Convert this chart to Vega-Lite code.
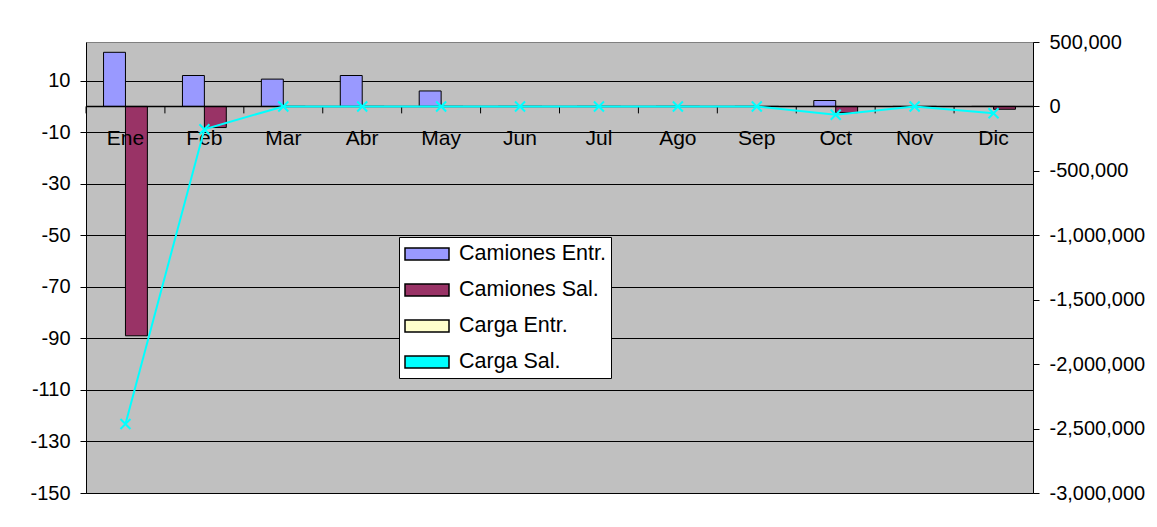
{
  "$schema": "https://vega.github.io/schema/vega-lite/v6.json",
  "width": 947,
  "height": 451,
  "autosize": {"type": "none"},
  "padding": {"left": 86, "top": 42, "right": 124, "bottom": 34},
  "background": "white",
  "config": {
    "font": "Liberation Sans",
    "view": {"fill": "#c0c0c0", "stroke": "#808080", "strokeWidth": 1},
    "axis": {"labelFont": "Liberation Sans", "labelFontSize": 20, "labelColor": "black", "domainColor": "black", "tickColor": "black"}
  },
  "data": {
    "values": [
      {"month": "Ene", "series": "Camiones Entr.", "value": 21},
      {"month": "Feb", "series": "Camiones Entr.", "value": 12},
      {"month": "Mar", "series": "Camiones Entr.", "value": 10.6},
      {"month": "Abr", "series": "Camiones Entr.", "value": 12},
      {"month": "May", "series": "Camiones Entr.", "value": 6},
      {"month": "Jun", "series": "Camiones Entr.", "value": 0},
      {"month": "Jul", "series": "Camiones Entr.", "value": 0},
      {"month": "Ago", "series": "Camiones Entr.", "value": 0},
      {"month": "Sep", "series": "Camiones Entr.", "value": 0},
      {"month": "Oct", "series": "Camiones Entr.", "value": 2.3},
      {"month": "Nov", "series": "Camiones Entr.", "value": 0},
      {"month": "Dic", "series": "Camiones Entr.", "value": 0},
      {"month": "Ene", "series": "Camiones Sal.", "value": -89},
      {"month": "Feb", "series": "Camiones Sal.", "value": -8.2},
      {"month": "Mar", "series": "Camiones Sal.", "value": 0},
      {"month": "Abr", "series": "Camiones Sal.", "value": 0},
      {"month": "May", "series": "Camiones Sal.", "value": 0},
      {"month": "Jun", "series": "Camiones Sal.", "value": 0},
      {"month": "Jul", "series": "Camiones Sal.", "value": 0},
      {"month": "Ago", "series": "Camiones Sal.", "value": 0},
      {"month": "Sep", "series": "Camiones Sal.", "value": 0},
      {"month": "Oct", "series": "Camiones Sal.", "value": -2.4},
      {"month": "Nov", "series": "Camiones Sal.", "value": 0},
      {"month": "Dic", "series": "Camiones Sal.", "value": -1.1},
      {"month": "Ene", "series": "Carga Entr.", "value": 0},
      {"month": "Feb", "series": "Carga Entr.", "value": 0},
      {"month": "Mar", "series": "Carga Entr.", "value": 0},
      {"month": "Abr", "series": "Carga Entr.", "value": 0},
      {"month": "May", "series": "Carga Entr.", "value": 0},
      {"month": "Jun", "series": "Carga Entr.", "value": 0},
      {"month": "Jul", "series": "Carga Entr.", "value": 0},
      {"month": "Ago", "series": "Carga Entr.", "value": 0},
      {"month": "Sep", "series": "Carga Entr.", "value": 0},
      {"month": "Oct", "series": "Carga Entr.", "value": 0},
      {"month": "Nov", "series": "Carga Entr.", "value": 0},
      {"month": "Dic", "series": "Carga Entr.", "value": 0},
      {"month": "Ene", "series": "Carga Sal.", "value": -2465000},
      {"month": "Feb", "series": "Carga Sal.", "value": -177000},
      {"month": "Mar", "series": "Carga Sal.", "value": 0},
      {"month": "Abr", "series": "Carga Sal.", "value": 0},
      {"month": "May", "series": "Carga Sal.", "value": 0},
      {"month": "Jun", "series": "Carga Sal.", "value": 0},
      {"month": "Jul", "series": "Carga Sal.", "value": 0},
      {"month": "Ago", "series": "Carga Sal.", "value": 0},
      {"month": "Sep", "series": "Carga Sal.", "value": 0},
      {"month": "Oct", "series": "Carga Sal.", "value": -64000},
      {"month": "Nov", "series": "Carga Sal.", "value": 0},
      {"month": "Dic", "series": "Carga Sal.", "value": -53000}
    ]
  },
  "encoding": {
    "x": {
      "field": "month", "type": "nominal", "sort": ["Ene","Feb","Mar","Abr","May","Jun","Jul","Ago","Sep","Oct","Nov","Dic"],
      "scale": {"paddingInner": 0, "paddingOuter": 0},
      "axis": null
    }
  },
  "layer": [
    {
      "encoding": {
        "y": {
          "field": "value", "type": "quantitative",
          "scale": {"domain": [-150, 25], "nice": false, "zero": false},
          "axis": {
            "orient": "left", "title": null, "values": [-150,-130,-110,-90,-70,-50,-30,-10,10],
            "grid": true, "gridColor": "black", "gridWidth": 1, "gridOpacity": 1,
            "tickSize": 6, "labelPadding": 10, "domain": true, "format": "d",
            "labelExpr": "replace(datum.label, '\u2212', '-')"
          }
        }
      },
      "layer": [
        {
          "transform": [{"filter": "datum.series === 'Camiones Entr.' || datum.series === 'Camiones Sal.'"}],
          "mark": {"type": "bar", "stroke": "black", "strokeWidth": 1, "opacity": 1},
          "encoding": {
            "xOffset": {"field": "series", "type": "nominal", "scale": {"domain": ["Camiones Entr.", "Camiones Sal."], "paddingInner": 0, "paddingOuter": 0.8}},
            "color": {
              "field": "series", "type": "nominal",
              "scale": {"domain": ["Camiones Entr.", "Camiones Sal.", "Carga Entr.", "Carga Sal."], "range": ["#9999ff", "#993366", "#ffffcc", "#00ffff"]},
              "legend": {
                "orient": "none", "legendX": 313, "legendY": 195, "title": null,
                "fillColor": "white", "strokeColor": "black", "padding": 5,
                "labelFont": "Liberation Sans", "labelFontSize": 21.5, "labelColor": "black",
                "symbolSize": 484, "rowPadding": 13, "labelOffset": 31,
                "symbolType": "M-1,-0.55H3V0.55H-1Z",
                "symbolStrokeColor": "black", "symbolStrokeWidth": 1.5,
                "encode": {
                  "symbols": {
                    "shape": {"condition": {"test": "datum.value === 'Carga Sal.'", "value": "M-1,0H3M0.72,-0.28L1.28,0.28M0.72,0.28L1.28,-0.28"}, "value": "M-1,-0.55H3V0.55H-1Z"},
                    "stroke": {"condition": {"test": "datum.value === 'Carga Sal.'", "value": "#00ffff"}, "value": "black"},
                    "strokeWidth": {"value": 1.5},
                    "opacity": {"value": 1}
                  }
                }
              }
            }
          }
        },
        {
          "transform": [{"filter": "datum.series === 'Camiones Entr.' && datum.month === 'Ene'"}],
          "mark": {"type": "rule", "color": "black", "strokeWidth": 1.5},
          "encoding": {"x": {"value": 0}, "x2": {"value": "width"}, "y": {"datum": 0}}
        },
        {
          "transform": [{"filter": "datum.series === 'Camiones Entr.'"}],
          "mark": {"type": "rule", "color": "black", "strokeWidth": 1},
          "encoding": {
            "x": {"field": "month", "type": "nominal", "sort": ["Ene","Feb","Mar","Abr","May","Jun","Jul","Ago","Sep","Oct","Nov","Dic"], "bandPosition": 0, "axis": null},
            "y": {"datum": 0},
            "y2": {"datum": -2.7}
          }
        },
        {
          "transform": [{"filter": "datum.series === 'Camiones Entr.'"}],
          "mark": {"type": "text", "font": "Liberation Sans", "fontSize": 21, "color": "black", "baseline": "alphabetic", "dy": 39, "align": "center"},
          "encoding": {
            "y": {"datum": 0},
            "text": {"field": "month"}
          }
        }
      ]
    },
    {
      "transform": [{"filter": "datum.series === 'Carga Sal.'"}],
      "encoding": {
        "y": {
          "field": "value", "type": "quantitative",
          "scale": {"domain": [-3000000, 500000], "nice": false, "zero": false},
          "axis": {
            "orient": "right", "title": null, "format": ",.0f", "values": [-3000000,-2500000,-2000000,-1500000,-1000000,-500000,0,500000],
            "grid": false, "tickSize": 6, "labelPadding": 10, "domain": true,
            "labelExpr": "replace(datum.label, '\u2212', '-')"
          }
        },
        "stroke": {"field": "series", "type": "nominal", "scale": {"domain": ["Carga Sal."], "range": ["#00ffff"]}, "legend": null}
      },
      "layer": [
        {"mark": {"type": "line", "strokeWidth": 2}},
        {"mark": {"type": "point", "shape": "M-1,-1L1,1M-1,1L1,-1", "filled": false, "size": 100, "strokeWidth": 2, "opacity": 1}}
      ]
    }
  ],
  "resolve": {"scale": {"y": "independent"}}
}
